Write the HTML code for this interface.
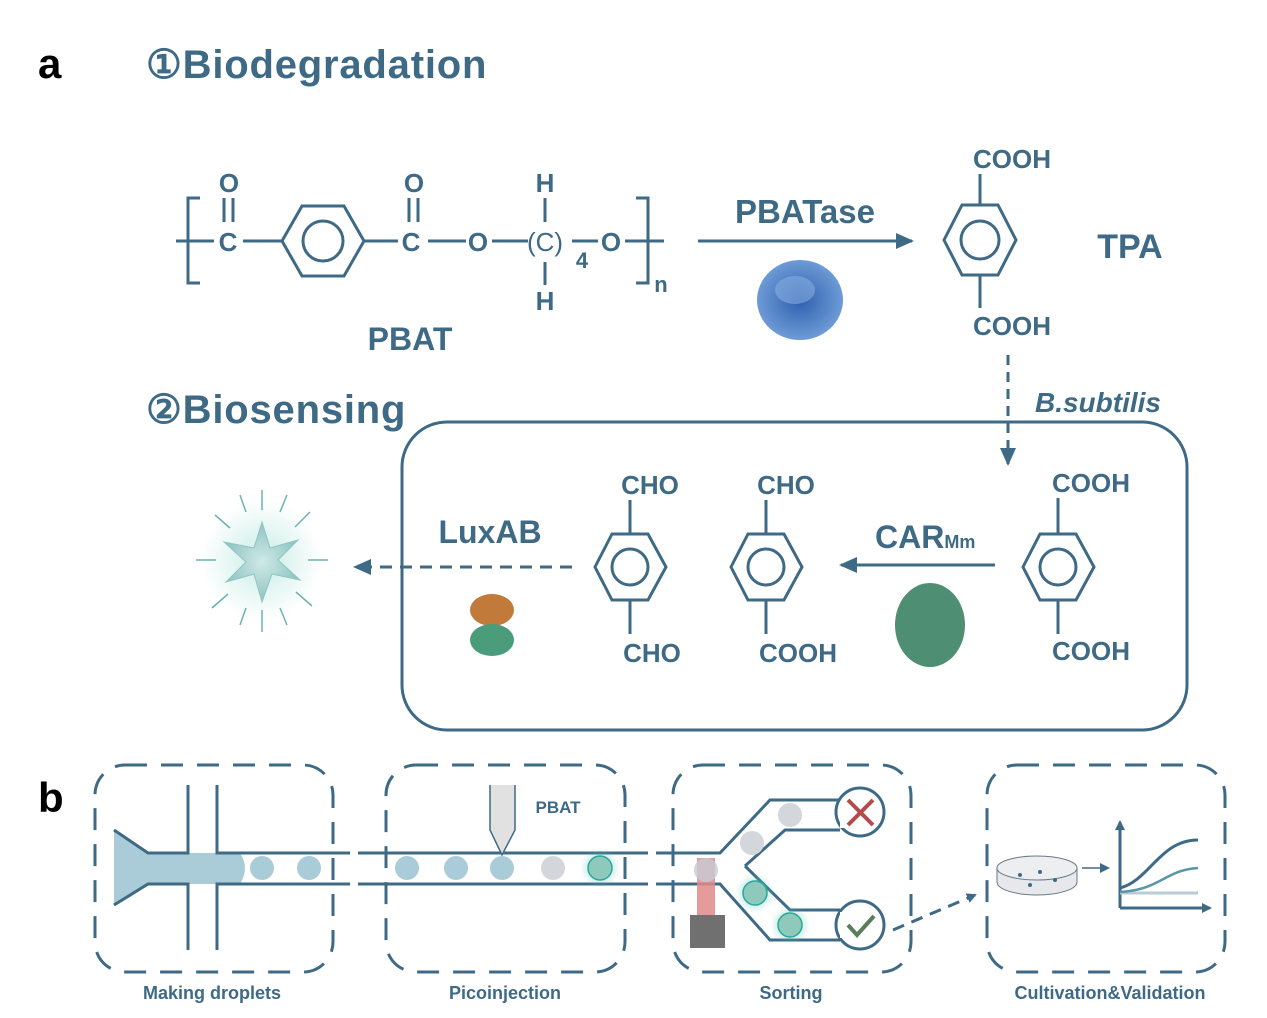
<!DOCTYPE html>
<html><head><meta charset="utf-8"><style>
body{margin:0;background:#fff}
svg{display:block;font-family:"Liberation Sans",sans-serif}
</style></head><body>
<svg width="1267" height="1018" viewBox="0 0 1267 1018">
<defs>
<radialGradient id="glow"><stop offset="0" stop-color="#5fc9b8" stop-opacity="0.7"/><stop offset="1" stop-color="#5fc9b8" stop-opacity="0"/></radialGradient>
<radialGradient id="star"><stop offset="0" stop-color="#cfe9e6"/><stop offset="1" stop-color="#8fc4c2"/></radialGradient>
<radialGradient id="prot"><stop offset="0" stop-color="#2f5fae"/><stop offset="1" stop-color="#6d9bd6"/></radialGradient>
<marker id="ah" markerWidth="10" markerHeight="10" refX="8" refY="5" orient="auto" markerUnits="userSpaceOnUse"><path d="M0,0 L10,5 L0,10 Z" fill="#3e6a86"/></marker>
<marker id="ah2" markerWidth="18" markerHeight="18" refX="16" refY="9" orient="auto" markerUnits="userSpaceOnUse"><path d="M0,1 L18,9 L0,17 Z" fill="#3e6a86"/></marker>
</defs>
<g fill="#3e6a86" stroke="none" font-weight="bold">
<text x="38" y="78" font-size="42" fill="#000">a</text>
<text x="38" y="812" font-size="42" fill="#000">b</text>
<text x="146" y="78" font-size="40" letter-spacing="0.8">①Biodegradation</text>
<text x="146" y="423" font-size="40" letter-spacing="0.8">②Biosensing</text>
</g>
<g stroke="#3e6a86" stroke-width="3" fill="none">
<path d="M200,198 H188 V283 H200"/>
<line x1="176" y1="241" x2="214" y2="241"/>
<line x1="224" y1="198" x2="224" y2="222"/><line x1="233" y1="198" x2="233" y2="222"/>
<line x1="243" y1="241" x2="282" y2="241"/>
<polygon points="282,241 302,206 344,206 364,241 344,276 302,276"/>
<circle cx="323" cy="241" r="20"/>
<line x1="364" y1="241" x2="398" y2="241"/>
<line x1="409" y1="198" x2="409" y2="222"/><line x1="418" y1="198" x2="418" y2="222"/>
<line x1="428" y1="241" x2="466" y2="241"/>
<line x1="492" y1="241" x2="528" y2="241"/>
<line x1="545" y1="198" x2="545" y2="222"/><line x1="545" y1="262" x2="545" y2="285"/>
<line x1="572" y1="241" x2="598" y2="241"/>
<line x1="625" y1="241" x2="664" y2="241"/>
<path d="M636,198 H648 V283 H636"/>
</g>
<g fill="#3e6a86" font-size="26" font-weight="bold" text-anchor="middle">
<text x="229" y="192">O</text><text x="228" y="251">C</text>
<text x="414" y="192">O</text><text x="411" y="251">C</text>
<text x="478" y="251">O</text><text x="545" y="192">H</text><text x="545" y="310">H</text>
<text x="545" y="251" font-weight="normal">(C)</text><text x="582" y="268" font-size="22">4</text>
<text x="611" y="251">O</text><text x="661" y="292" font-size="22">n</text>
<text x="410" y="350" font-size="32">PBAT</text>
<text x="805" y="223" font-size="33">PBATase</text>
<text x="1012" y="168">COOH</text><text x="1012" y="335">COOH</text>
<text x="1130" y="258" font-size="34">TPA</text>
<text x="1098" y="412" font-size="28" font-style="italic">B.subtilis</text>
<text x="650" y="494">CHO</text><text x="652" y="662">CHO</text>
<text x="786" y="494">CHO</text><text x="798" y="662">COOH</text>
<text x="1091" y="492">COOH</text><text x="1091" y="660">COOH</text>
<text x="490" y="543" font-size="32">LuxAB</text>
<text x="875" y="548" font-size="32" text-anchor="start">CAR<tspan font-size="18">Mm</tspan></text>
</g>
<line x1="698" y1="241" x2="912" y2="241" stroke="#3e6a86" stroke-width="3" marker-end="url(#ah2)"/>
<g><ellipse cx="800" cy="300" rx="43" ry="40" fill="url(#prot)"/><ellipse cx="795" cy="290" rx="20" ry="14" fill="#85aee0" opacity=".6"/></g>
<g stroke="#3e6a86" stroke-width="3" fill="none">
<polygon points="944,240 962,205 998,205 1016,240 998,275 962,275"/><circle cx="980" cy="240" r="19"/>
<line x1="980" y1="174" x2="980" y2="205"/><line x1="980" y1="275" x2="980" y2="308"/>
</g>
<line x1="1008" y1="355" x2="1008" y2="464" stroke="#3e6a86" stroke-width="3" stroke-dasharray="10,7" marker-end="url(#ah2)"/>
<rect x="402" y="422" width="785" height="308" rx="45" fill="none" stroke="#3e6a86" stroke-width="3"/>
<g stroke="#3e6a86" stroke-width="3" fill="none">
<polygon points="595,567 612,534 648,534 666,567 648,600 612,600"/><circle cx="630" cy="567" r="18"/><line x1="630" y1="500" x2="630" y2="534"/><line x1="630" y1="600" x2="630" y2="634"/>
<polygon points="731,567 748,534 784,534 802,567 784,600 748,600"/><circle cx="766" cy="567" r="18"/><line x1="766" y1="500" x2="766" y2="534"/><line x1="766" y1="600" x2="766" y2="634"/>
<polygon points="1023,567 1040,534 1076,534 1094,567 1076,600 1040,600"/><circle cx="1058" cy="567" r="18"/><line x1="1058" y1="498" x2="1058" y2="534"/><line x1="1058" y1="600" x2="1058" y2="634"/>
</g>
<line x1="995" y1="565" x2="841" y2="565" stroke="#3e6a86" stroke-width="3" marker-end="url(#ah2)"/>
<line x1="572" y1="567" x2="355" y2="567" stroke="#3e6a86" stroke-width="3" stroke-dasharray="12,8" marker-end="url(#ah2)"/>
<g><ellipse cx="930" cy="625" rx="35" ry="42" fill="#2f7a5a" opacity=".85"/></g>
<g><ellipse cx="492" cy="610" rx="22" ry="16" fill="#c27a3a"/><ellipse cx="492" cy="640" rx="22" ry="16" fill="#4a9c7a"/></g>
<g>
<circle cx="262" cy="560" r="60" fill="url(#glow)" opacity=".5"/>
<polygon points="262,522 270,548 298,540 278,560 300,580 272,574 262,602 254,574 226,582 246,562 224,542 254,548" fill="url(#star)" stroke="#8fc4c2"/>
<g stroke="#6bb2b0" stroke-width="1.5">
<line x1="262" y1="490" x2="262" y2="510"/><line x1="262" y1="610" x2="262" y2="632"/><line x1="196" y1="560" x2="216" y2="560"/><line x1="308" y1="560" x2="328" y2="560"/>
<line x1="215" y1="515" x2="230" y2="528"/><line x1="310" y1="512" x2="295" y2="527"/><line x1="212" y1="608" x2="228" y2="594"/><line x1="312" y1="606" x2="296" y2="592"/>
<line x1="240" y1="495" x2="246" y2="512"/><line x1="287" y1="495" x2="280" y2="512"/><line x1="240" y1="625" x2="246" y2="608"/><line x1="287" y1="625" x2="280" y2="608"/>
</g></g>
<g fill="none" stroke="#3e6a86" stroke-width="3" stroke-dasharray="22,14">
<rect x="95" y="765" width="238" height="207" rx="30"/>
<rect x="386" y="765" width="239" height="207" rx="30"/>
<rect x="673" y="765" width="238" height="207" rx="30"/>
<rect x="987" y="765" width="238" height="207" rx="30"/>
</g>
<g fill="#3e6a86" font-size="18" font-weight="bold" text-anchor="middle">
<text x="212" y="999">Making droplets</text>
<text x="505" y="999">Picoinjection</text>
<text x="791" y="999">Sorting</text>
<text x="1110" y="999">Cultivation&amp;Validation</text>
<text x="558" y="813" font-size="17">PBAT</text>
</g>
<g>
<path d="M114,830 L150,853 L240,853 Q250,868 240,884 L150,884 L114,905 Z" fill="#a9ccd8"/>
<path d="M114,830 L148,853 H188 V785 M217,785 V853 H333 M114,905 L148,884 H188 V950 M217,950 V884 H333" fill="none" stroke="#3e6a86" stroke-width="3"/>
<path d="M333,853 H625 M333,884 H625 M625,853 H720 L770,800 H840 M625,884 H720 L770,940 H840" fill="none" stroke="#3e6a86" stroke-width="3"/>
<rect x="336" y="850" width="40" height="38" fill="#fff"/>
<path d="M336,853 H350 M358,853 H376 M336,884 H350 M358,884 H376" stroke="#3e6a86" stroke-width="3"/>
<rect x="628" y="850" width="40" height="38" fill="#fff"/>
<path d="M628,853 H648 M656,853 H668 M628,884 H648 M656,884 H668" stroke="#3e6a86" stroke-width="3"/>
<path d="M745,866 L785,830 H840 M745,866 L790,910 H840" fill="none" stroke="#3e6a86" stroke-width="3"/>
<circle cx="860" cy="812" r="24" fill="#fff" stroke="#3e6a86" stroke-width="3"/>
<circle cx="860" cy="925" r="24" fill="#fff" stroke="#3e6a86" stroke-width="3"/>
<rect x="840" y="802" width="12" height="26" fill="#fff"/><rect x="840" y="912" width="12" height="26" fill="#fff"/>
<path d="M848,800 L873,825 M873,800 L848,825" stroke="#b54b4b" stroke-width="4"/>
<path d="M848,925 L857,935 L874,916" stroke="#5a7d5a" stroke-width="4" fill="none"/>
<path d="M490,785 V830 L502,855 L515,830 V785" fill="#e1e1e1" stroke="#3e6a86" stroke-width="1.5"/>
<g fill="#a9ccd8"><circle cx="262" cy="868" r="12"/><circle cx="309" cy="868" r="12"/><circle cx="407" cy="868" r="12"/><circle cx="456" cy="868" r="12"/><circle cx="502" cy="868" r="12"/></g>
<circle cx="553" cy="868" r="12" fill="#d3d7dc"/>
<circle cx="790" cy="815" r="12" fill="#d3d7dc"/><circle cx="752" cy="843" r="12" fill="#d3d7dc"/>
<circle cx="600" cy="868" r="20" fill="url(#glow)"/><circle cx="600" cy="868" r="12" fill="#8fc9bb" stroke="#2aa89a" stroke-width="1.5"/>
<circle cx="755" cy="893" r="20" fill="url(#glow)"/><circle cx="755" cy="893" r="12" fill="#8fc9bb" stroke="#2aa89a" stroke-width="1.5"/>
<circle cx="790" cy="925" r="20" fill="url(#glow)"/><circle cx="790" cy="925" r="12" fill="#8fc9bb" stroke="#2aa89a" stroke-width="1.5"/>
<rect x="697" y="858" width="18" height="58" fill="#e28a8a" opacity=".85"/>
<circle cx="706" cy="870" r="12" fill="#c5ccd4" opacity=".8"/>
<rect x="690" y="915" width="35" height="33" fill="#707070"/>
</g>
<line x1="893" y1="930" x2="975" y2="895" stroke="#3e6a86" stroke-width="3" stroke-dasharray="12,8" marker-end="url(#ah)"/>
<g>
<path d="M997,868 V882 A40,13 0 0 0 1077,882 V868" fill="#e6e8eb" stroke="#6a7a86"/>
<ellipse cx="1037" cy="868" rx="40" ry="12" fill="#eceef0" stroke="#6a7a86"/>
<g fill="#3e6a86"><circle cx="1020" cy="875" r="2"/><circle cx="1040" cy="872" r="2"/><circle cx="1055" cy="880" r="2"/><circle cx="1030" cy="885" r="2"/></g>
</g>
<line x1="1082" y1="868" x2="1108" y2="868" stroke="#3e6a86" stroke-width="1.5" marker-end="url(#ah)"/>
<g fill="none">
<path d="M1120,908 V822" stroke="#3e6a86" stroke-width="3" marker-end="url(#ah)"/>
<path d="M1120,908 H1210" stroke="#3e6a86" stroke-width="3" marker-end="url(#ah)"/>
<path d="M1120,893 H1198" stroke="#b8ccd6" stroke-width="3"/>
<path d="M1120,892 C1160,890 1165,870 1198,868" stroke="#5a95a8" stroke-width="2.5"/>
<path d="M1120,888 C1150,880 1160,840 1198,840" stroke="#3e6a86" stroke-width="3"/>
</g>
</svg>
</body></html>
